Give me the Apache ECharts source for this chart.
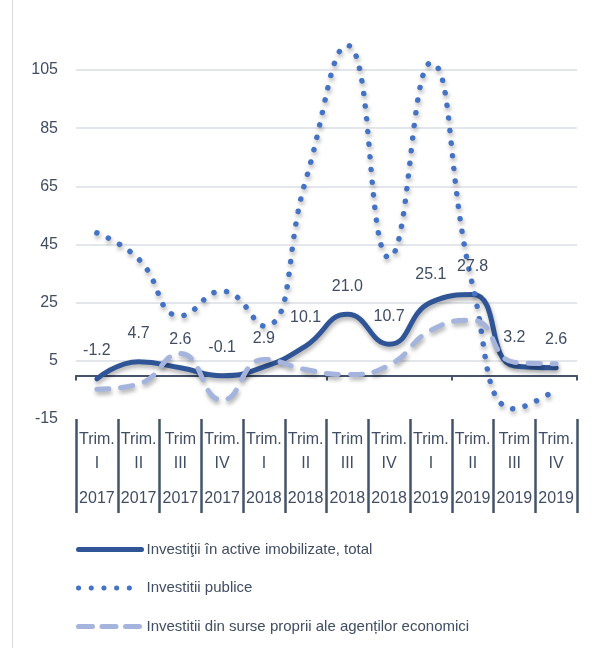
<!DOCTYPE html>
<html>
<head>
<meta charset="utf-8">
<script src="https://cdn.jsdelivr.net/npm/echarts@6/dist/echarts.min.js"></script>
<style>html,body{margin:0;padding:0;background:#fff}#c{width:595px;height:648px}</style>
</head>
<body>
<div id="c"></div>
<script>
var quarters = ['Trim.|I', 'Trim.|II', 'Trim|III', 'Trim.|IV', 'Trim.|I', 'Trim.|II', 'Trim|III', 'Trim.|IV', 'Trim.|I', 'Trim.|II', 'Trim|III', 'Trim.|IV'];
var years = ['2017', '2017', '2017', '2017', '2018', '2018', '2018', '2018', '2019', '2019', '2019', '2019'];
var totalValues = [-1.2, 4.7, 2.6, -0.1, 2.9, 10.1, 21.0, 10.7, 25.1, 27.8, 3.2, 2.6];
var publicValues = [49, 40, 20.5, 29, 17, 67, 113.5, 40.5, 107.5, 31, -11.5, -5];
var ownValues = [-4.8, -3, 7.5, -8.5, 5.5, 2, 0.3, 3.5, 15.5, 19, 4.5, 4];
var seriesNames = ['Investiţii în active imobilizate, total', 'Investitii publice', 'Investitii din surse proprii ale agenților economici'];

var categories = quarters.map(function (q, i) { return q + '|' + years[i]; });
var FONT = 'Liberation Sans';
var TXT = '#404d63';
var shadow = { shadowColor: 'rgba(0,0,0,0.32)', shadowBlur: 4, shadowOffsetX: 1, shadowOffsetY: 3 };
var solidStyle = { color: '#2f5597', width: 5, cap: 'round' };
var dotStyle = { color: '#4472c4', width: 5.5, type: [0.1, 12.6], cap: 'round' };
var dashStyle = { color: '#a5b4dc', width: 5, type: [12, 12], cap: 'round' };

var chart = echarts.init(document.getElementById('c'));
chart.setOption({
  animation: false,
  textStyle: { fontFamily: FONT },
  grid: { left: 76, right: 18, top: 41, bottom: 229, containLabel: false },
  graphic: [{ type: 'line', shape: { x1: 12.5, y1: 0, x2: 12.5, y2: 648 }, style: { stroke: '#d9d9d9', lineWidth: 1 } }],
  legend: {
    orient: 'vertical', left: 71, top: 537, itemWidth: 63, itemHeight: 16, itemGap: 23.5,
    textStyle: { fontFamily: FONT, fontSize: 15, color: TXT },
    itemStyle: { opacity: 0 },
    data: [
      { name: seriesNames[0], lineStyle: { color: solidStyle.color, width: 5, cap: 'round', type: 'solid' } },
      { name: seriesNames[1], lineStyle: { color: dotStyle.color, width: 5, cap: 'round', type: [0.1, 12.6] } },
      { name: seriesNames[2], lineStyle: { color: dashStyle.color, width: 5, cap: 'round', type: [14, 9.5] } }
    ]
  },
  xAxis: [{
    type: 'category', data: categories, position: 'bottom',
    axisLine: { onZero: true, lineStyle: { color: '#44546a', width: 2 } },
    axisTick: { show: true, length: 5, lineStyle: { color: '#44546a', width: 2 } },
    axisLabel: { show: false }, splitLine: { show: false }
  }, {
    type: 'category', data: categories, position: 'bottom',
    axisLine: { show: false, onZero: false },
    axisTick: { show: true, length: 94, lineStyle: { color: '#44546a', width: 2.5 } },
    axisLabel: {
      interval: 0, margin: 9, color: TXT,
      formatter: function (v) { var p = v.split('|'); return '{t|' + p[0] + '}\n{t|' + p[1] + '}\n{y|' + p[2] + '}'; },
      rich: {
        t: { fontFamily: FONT, fontSize: 16, lineHeight: 24, color: TXT },
        y: { fontFamily: FONT, fontSize: 16, lineHeight: 46, color: TXT }
      }
    }
  }],
  yAxis: {
    type: 'value', min: -15, max: 115, interval: 20,
    axisLine: { show: false }, axisTick: { show: false },
    axisLabel: { margin: 18, fontSize: 16, color: TXT, fontFamily: FONT,
      formatter: function (v) { return v === 115 ? '' : String(v); } },
    splitLine: { lineStyle: { color: ['rgba(0,0,0,0)', '#dadee4', '#dadee4', '#dadee4', '#dadee4', '#dadee4', '#dadee4', 'rgba(0,0,0,0)'], width: 1.5 } }
  },
  series: [{
    name: seriesNames[0], type: 'line', data: totalValues, smooth: 0.5, symbol: 'circle', symbolSize: 0.01, showSymbol: true, clip: false,
    lineStyle: Object.assign({}, solidStyle, shadow),
    itemStyle: { color: '#2f5597' },
    label: { show: true, position: 'top', distance: 20, fontSize: 16, color: TXT, fontFamily: FONT,
      formatter: function (p) { return p.value.toFixed(1); } }
  }, {
    name: seriesNames[1], type: 'line', data: publicValues, smooth: 0.5, symbol: 'none', clip: false,
    lineStyle: Object.assign({}, dotStyle, shadow),
    itemStyle: { color: '#4472c4' }
  }, {
    name: seriesNames[2], type: 'line', data: ownValues, smooth: 0.5, symbol: 'none', clip: false,
    lineStyle: Object.assign({}, dashStyle, shadow),
    itemStyle: { color: '#a5b4dc' }
  }]
});
</script>
</body>
</html>
